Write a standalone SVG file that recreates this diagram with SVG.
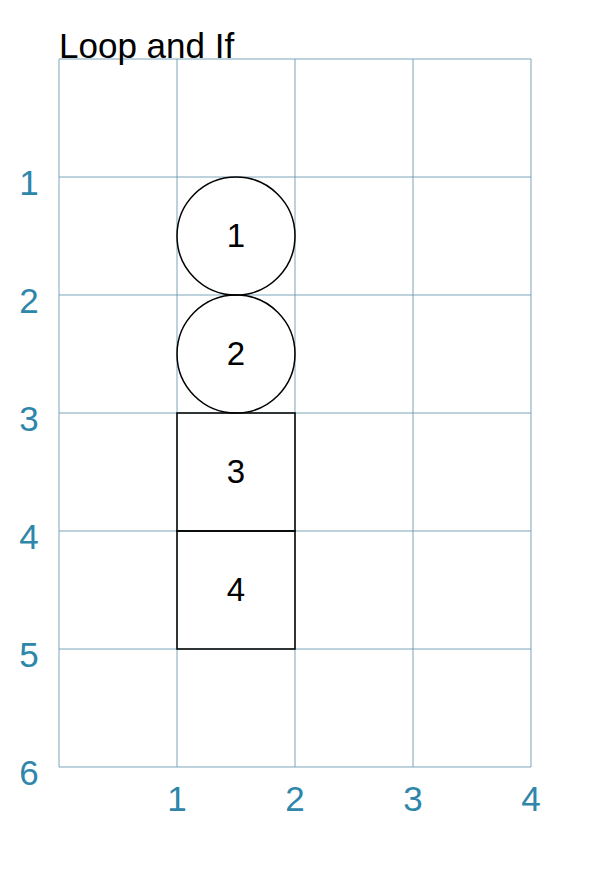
<svg xmlns="http://www.w3.org/2000/svg" width="613" height="875" viewBox="0 0 613 875">
<style>
.grid line{stroke:#5b8fa8;stroke-width:1;stroke-opacity:0.8}
.ax{font-family:"Liberation Sans",Arial,sans-serif;font-size:35px;fill:#2e86ab;text-anchor:middle}
.node circle,.node rect{fill:none;stroke:#000;stroke-width:1.5}
.lbl{font-family:"Liberation Sans",Arial,sans-serif;font-size:33px;fill:#000;text-anchor:middle}
.title{font-family:"Liberation Sans",Arial,sans-serif;font-size:35px;fill:#000}
</style>
<rect width="613" height="875" fill="#fff"/>
<g class="grid">
<line x1="59" y1="59" x2="59" y2="767"/>
<line x1="177" y1="59" x2="177" y2="767"/>
<line x1="295" y1="59" x2="295" y2="767"/>
<line x1="413" y1="59" x2="413" y2="767"/>
<line x1="531" y1="59" x2="531" y2="767"/>
<line x1="59" y1="59" x2="531" y2="59"/>
<line x1="59" y1="177" x2="531" y2="177"/>
<line x1="59" y1="295" x2="531" y2="295"/>
<line x1="59" y1="413" x2="531" y2="413"/>
<line x1="59" y1="531" x2="531" y2="531"/>
<line x1="59" y1="649" x2="531" y2="649"/>
<line x1="59" y1="767" x2="531" y2="767"/>
</g>
<text class="title" x="59" y="58">Loop and If</text>
<g id="yaxis">
<text class="ax" x="29" y="195">1</text>
<text class="ax" x="29" y="313">2</text>
<text class="ax" x="29" y="431">3</text>
<text class="ax" x="29" y="549">4</text>
<text class="ax" x="29" y="667">5</text>
<text class="ax" x="29" y="785">6</text>
</g>
<g id="xaxis">
<text class="ax" x="177" y="811">1</text>
<text class="ax" x="295" y="811">2</text>
<text class="ax" x="413" y="811">3</text>
<text class="ax" x="531" y="811">4</text>
</g>
<g id="connectors"></g>
<g id="node1" class="node"><circle cx="236" cy="236" r="59"/><text class="lbl" x="236" y="247">1</text></g>
<g id="node2" class="node"><circle cx="236" cy="354" r="59"/><text class="lbl" x="236" y="365">2</text></g>
<g id="node3" class="node"><rect x="177" y="413" width="118" height="118"/><text class="lbl" x="236" y="483">3</text></g>
<g id="node4" class="node"><rect x="177" y="531" width="118" height="118"/><text class="lbl" x="236" y="601">4</text></g>
</svg>
